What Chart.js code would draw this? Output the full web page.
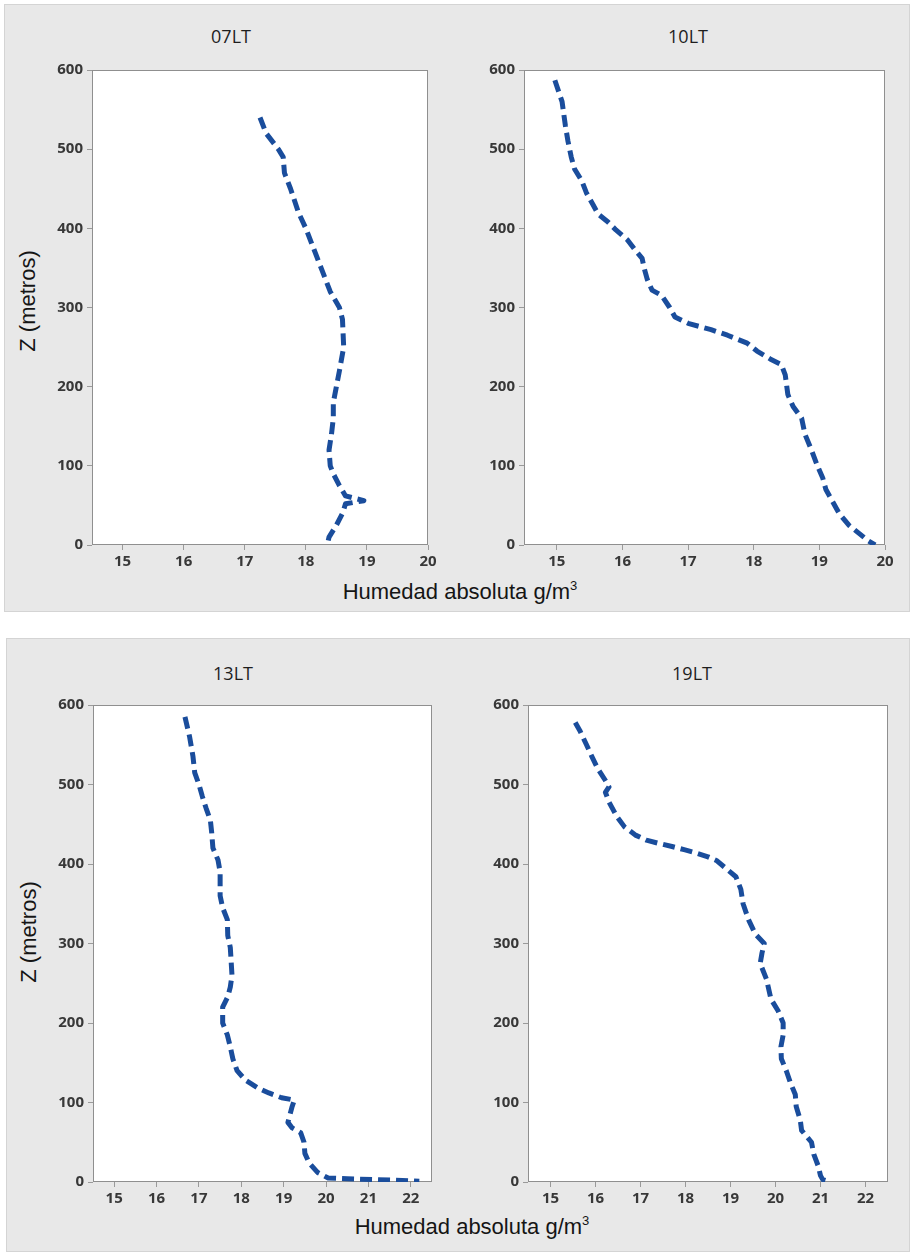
<!DOCTYPE html>
<html>
<head>
<meta charset="utf-8">
<script src="https://cdn.jsdelivr.net/npm/chart.js@4.4.1/dist/chart.umd.min.js"></script>
<style>
  body { margin: 0; width: 913px; height: 1254px; background: #fff; position: relative; overflow: hidden; }
  .panel { position: absolute; background: #e8e8e8; border: 1px solid #d4d4d4; box-sizing: border-box; }
  .cv { position: absolute; }
  .ttl { position: absolute; width: 120px; margin-left: -60px; text-align: center;
         font: 18px/24px "Open Sans", sans-serif; color: #1e1e1e; }
  .xt { position: absolute; font: 22px/22px "Liberation Sans", Arial, sans-serif; color: #151515;
        white-space: nowrap; transform: translateX(-50%); }
  .xt span { font-size: 13px; position: relative; top: -9px; }
  .yt { position: absolute; font: 22px/22px "Liberation Sans", Arial, sans-serif; color: #151515;
        white-space: nowrap; transform: translate(-50%, -50%) rotate(-90deg); }
</style>
</head>
<body>
<div class="panel" style="left:4px;top:4px;width:906px;height:608px;"></div>
<div class="panel" style="left:6px;top:638px;width:904px;height:614px;"></div>

<div class="ttl" style="left:231px;top:24px;">07LT</div>
<div class="ttl" style="left:688px;top:24px;">10LT</div>
<div class="ttl" style="left:233px;top:661px;">13LT</div>
<div class="ttl" style="left:692px;top:661px;">19LT</div>

<div class="yt" style="left:28px;top:301px;">Z (metros)</div>
<div class="yt" style="left:29px;top:932px;">Z (metros)</div>
<div class="xt" style="left:460px;top:581px;">Humedad absoluta g/m<span>3</span></div>
<div class="xt" style="left:472px;top:1216px;">Humedad absoluta g/m<span>3</span></div>

<canvas id="c07" class="cv" width="400" height="530" style="left:40px;top:55px;"></canvas>
<canvas id="c10" class="cv" width="425" height="530" style="left:472px;top:55px;"></canvas>
<canvas id="c13" class="cv" width="403" height="532" style="left:41px;top:690px;"></canvas>
<canvas id="c19" class="cv" width="424" height="532" style="left:476px;top:690px;"></canvas>

<script>
// Vertical profiles of absolute humidity (g/m3) against height Z (m)
const heights07  = [540, 520, 500, 490, 470, 450, 420, 400, 380, 350, 320, 300, 285, 250, 220, 200, 180, 160, 140, 120, 100, 90, 75, 62, 56, 52, 40, 25, 10, 0];
const humidity07 = [17.25, 17.35, 17.55, 17.63, 17.65, 17.75, 17.88, 18.0, 18.1, 18.25, 18.4, 18.55, 18.6, 18.62, 18.55, 18.5, 18.45, 18.45, 18.42, 18.38, 18.4, 18.45, 18.55, 18.65, 18.95, 18.65, 18.6, 18.5, 18.38, 18.35];

const heights10  = [587, 560, 530, 510, 490, 475, 460, 445, 430, 418, 408, 398, 385, 372, 362, 350, 335, 322, 315, 300, 288, 280, 272, 265, 255, 245, 235, 228, 215, 190, 175, 160, 140, 120, 100, 85, 70, 55, 40, 25, 15, 5, 0];
const humidity10 = [14.97, 15.08, 15.13, 15.17, 15.22, 15.27, 15.38, 15.45, 15.55, 15.63, 15.78, 15.9, 16.08, 16.2, 16.3, 16.33, 16.38, 16.45, 16.6, 16.72, 16.8, 17.0, 17.35, 17.6, 17.9, 18.05, 18.25, 18.42, 18.48, 18.52, 18.6, 18.73, 18.78, 18.88, 18.97, 19.05, 19.1, 19.2, 19.3, 19.45, 19.6, 19.75, 19.85];

const heights13  = [585, 560, 535, 515, 500, 485, 470, 455, 440, 420, 405, 390, 360, 345, 330, 310, 295, 260, 245, 233, 220, 200, 185, 170, 155, 140, 128, 118, 112, 106, 103, 95, 85, 75, 68, 62, 50, 36, 24, 12, 5, 4, 3, 2, 1];
const humidity13 = [16.67, 16.78, 16.86, 16.9, 17.0, 17.08, 17.17, 17.27, 17.3, 17.33, 17.45, 17.5, 17.5, 17.56, 17.67, 17.68, 17.74, 17.78, 17.74, 17.68, 17.56, 17.56, 17.67, 17.74, 17.8, 17.9, 18.1, 18.4, 18.65, 18.95, 19.25, 19.2, 19.15, 19.1, 19.2, 19.4, 19.48, 19.5, 19.6, 19.8, 20.05, 20.5, 21.2, 21.8, 22.2];

const heights19  = [578, 568, 550, 535, 520, 505, 497, 490, 478, 460, 447, 436, 430, 426, 422, 418, 414, 409, 404, 392, 384, 368, 350, 330, 312, 300, 288, 275, 255, 230, 215, 200, 185, 170, 155, 140, 125, 110, 95, 78, 65, 50, 35, 20, 8, 3, 1];
const humidity19 = [15.55, 15.65, 15.8, 15.92, 16.05, 16.22, 16.3, 16.22, 16.3, 16.47, 16.64, 16.9, 17.13, 17.4, 17.7, 17.97, 18.23, 18.5, 18.7, 18.95, 19.12, 19.23, 19.28, 19.4, 19.55, 19.75, 19.7, 19.66, 19.8, 19.9, 20.06, 20.17, 20.17, 20.12, 20.13, 20.24, 20.33, 20.44, 20.46, 20.55, 20.58, 20.8, 20.85, 20.95, 21.0, 21.05, 21.17];

// Axis ticks
const zTicks      = [0, 100, 200, 300, 400, 500, 600];
const humTicksTop = [15, 16, 17, 18, 19, 20];
const humTicksBot = [15, 16, 17, 18, 19, 20, 21, 22];

const LINE_COLOR = '#1a4d9c';
const TICK_FONT = { family: '"Open Sans", sans-serif', size: 15, weight: 'bold' };
const TICK_COLOR = '#383838';

// White plotting area with a thin grey frame
const plotFrame = {
  id: 'plotFrame',
  beforeDraw(chart) {
    const a = chart.chartArea, ctx = chart.ctx;
    ctx.save();
    ctx.fillStyle = '#ffffff';
    ctx.fillRect(a.left, a.top, a.right - a.left, a.bottom - a.top);
    ctx.restore();
  },
  beforeDatasetsDraw(chart) {
    const a = chart.chartArea, ctx = chart.ctx;
    ctx.save();
    ctx.strokeStyle = '#8f8f8f';
    ctx.lineWidth = 1;
    ctx.strokeRect(Math.round(a.left) + 0.5, Math.round(a.top) + 0.5,
                   Math.round(a.right - a.left) - 1, Math.round(a.bottom - a.top) - 1);
    ctx.restore();
  }
};

function profileChart(id, heights, humidity, xMin, xMax, xTicks) {
  const points = heights.map((z, i) => ({ x: humidity[i], y: z }));
  return new Chart(document.getElementById(id), {
    type: 'scatter',
    data: {
      datasets: [{
        data: points,
        showLine: true,
        borderColor: LINE_COLOR,
        borderWidth: 5,
        borderDash: [12, 6],
        borderCapStyle: 'butt',
        borderJoinStyle: 'round',
        pointRadius: 0,
        tension: 0
      }]
    },
    options: {
      responsive: false,
      animation: false,
      devicePixelRatio: 1,
      layout: { padding: { top: 15, right: 12, left: 0, bottom: 0 } },
      plugins: { legend: { display: false }, tooltip: { enabled: false } },
      scales: {
        x: {
          type: 'linear', min: xMin, max: xMax,
          afterBuildTicks: s => { s.ticks = xTicks.map(v => ({ value: v })); },
          afterFit: s => { s.height = 40; },
          grid: { drawOnChartArea: false, drawTicks: true, tickLength: 5, color: '#9a9a9a' },
          border: { display: false },
          ticks: { font: TICK_FONT, color: TICK_COLOR, padding: 3, maxRotation: 0 }
        },
        y: {
          type: 'linear', min: 0, max: 600,
          afterBuildTicks: s => { s.ticks = zTicks.map(v => ({ value: v })); },
          afterFit: s => { s.width = 52; },
          grid: { drawOnChartArea: false, drawTicks: true, tickLength: 5, color: '#9a9a9a' },
          border: { display: false },
          ticks: { font: TICK_FONT, color: TICK_COLOR, padding: 4 }
        }
      }
    },
    plugins: [plotFrame]
  });
}

profileChart('c07', heights07, humidity07, 14.5, 20, humTicksTop);
profileChart('c10', heights10, humidity10, 14.5, 20, humTicksTop);
profileChart('c13', heights13, humidity13, 14.5, 22.5, humTicksBot);
profileChart('c19', heights19, humidity19, 14.5, 22.5, humTicksBot);
</script>
</body>
</html>
